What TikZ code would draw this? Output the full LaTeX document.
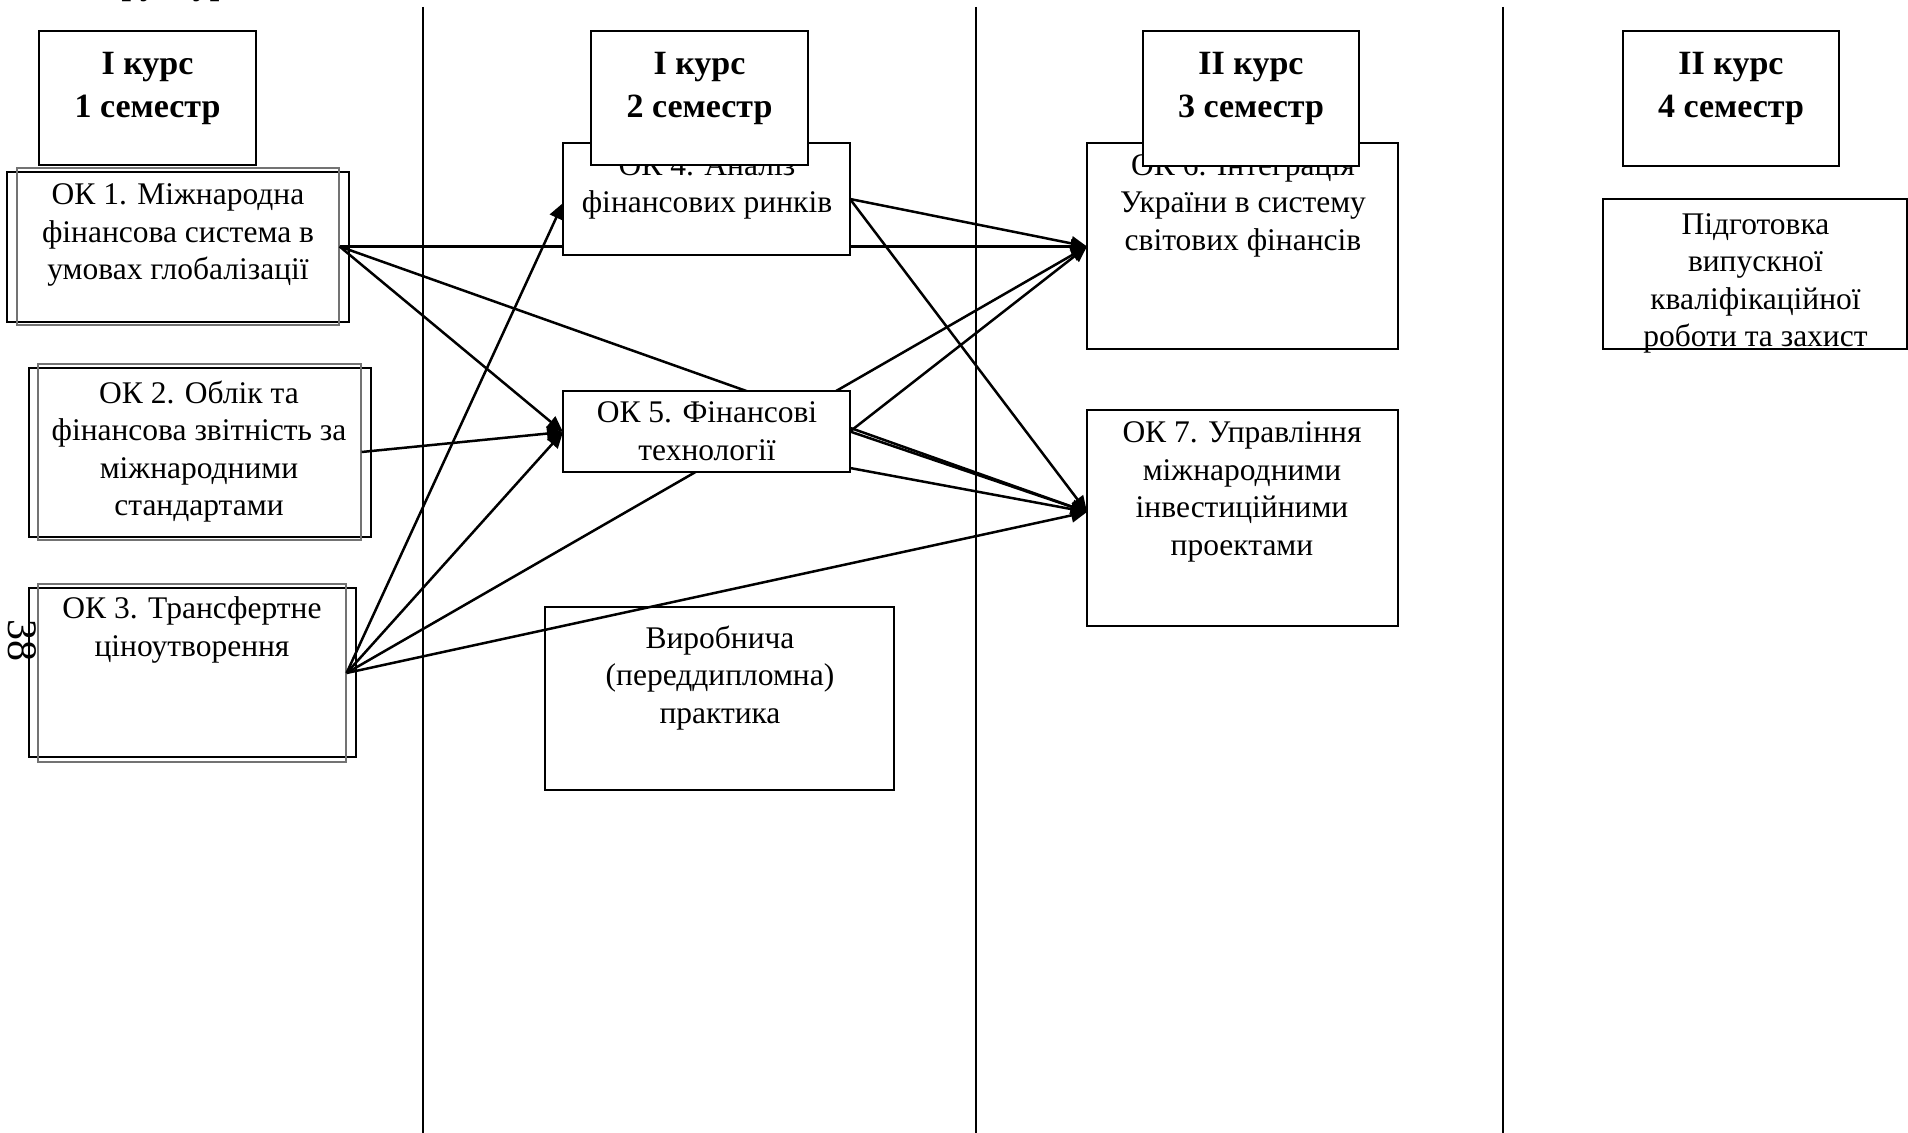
\documentclass[tikz,border=0pt]{standalone}
\usepackage{fontspec}
\setmainfont{Liberation Serif}
\usetikzlibrary{fit,arrows.meta}
\begin{document}
\begin{tikzpicture}[x=0.5pt,y=-0.5pt,
  conn/.style={line width=1.25pt,-{Triangle[length=8pt,width=7pt]}},
  boxA/.style={draw,line width=1pt,inner sep=0pt},
  boxB/.style={draw=black!55,line width=0.6pt,inner sep=0pt},
  box/.style={draw,line width=0.8pt,fill=white,inner sep=0pt},
  obox/.style={draw,line width=0.8pt,inner sep=0pt},
  hdr/.style={draw,line width=0.9pt,fill=white,inner sep=0pt},
  txt/.style={align=center,inner sep=0pt,anchor=north,font=\fontsize{15.75}{18.75}\selectfont},
  htxt/.style={align=center,inner sep=0pt,anchor=north,font=\fontsize{17}{21.3}\selectfont\bfseries},
  vline/.style={line width=0.75pt}]
\useasboundingbox (0,0) rectangle (1908,1133);

% semester separators
\draw[vline] (423,7) -- (423,1133);
\draw[vline] (976,7) -- (976,1133);
\draw[vline] (1503,7) -- (1503,1133);

% left column (double boxes)
\node[boxA,fit={(7,172) (349,322)}] (ok1o) {};
\node[boxB,fit={(17,168) (339,325)}] (ok1) {};
\node[txt] (ok1t) at (178,183.5) {ОК 1. Міжнародна\\фінансова система в\\умовах глобалізації};

\node[boxA,fit={(29,368) (371,537)}] (ok2o) {};
\node[boxB,fit={(38,364) (361,540)}] (ok2) {};
\node[txt] (ok2t) at (199,380.5) {ОК 2. Облік та\\фінансова звітність за\\міжнародними\\стандартами};

\node[boxA,fit={(29,588) (356,757)}] (ok3o) {};
\node[boxB,fit={(38,584) (346,762)}] (ok3) {};
\node[txt] (ok3t) at (192,596.5) {ОК 3. Трансфертне\\ціноутворення};

% target anchor coordinates
\coordinate (t7) at (1087,512);
\coordinate (s5) at (850,468);

% box corners (boxes drawn after the connectors)
\path (563,143) coordinate (ok4nw) (850,255) coordinate (ok4se);
\path (563,391) coordinate (ok5nw) (850,472) coordinate (ok5se);
\path (1087,143) coordinate (ok6nw) (1398,349) coordinate (ok6se);

% connectors
\draw[conn] (ok1.east) -- (1087,246.5) coordinate (t6);
\draw[conn] (ok1.east) -- (563,432) coordinate (t5);
\draw[conn] (ok1.east) -- (t7);
\draw[conn] (ok2.east) -- (t5);
\draw[conn] (ok3.east) -- (563,203) coordinate (t4);
\draw[conn] (ok3.east) -- (t5);
\draw[conn] (ok3.east) -- (t6);
\draw[conn] (ok3.east) -- (t7);
\draw[conn] (850,199) coordinate (s4) -- (t6);
\draw[conn] (s4) -- (t7);
\draw[conn] (850,431.5) coordinate (s5a) -- (t6);
\draw[conn] (s5a) -- (t7);
\draw[conn] (s5) -- (t7);

% middle & right boxes
\node[box,fit=(ok4nw)(ok4se)] (ok4) {};
\node[txt] (ok4t) at (707,154) {ОК 4. Аналіз\\фінансових ринків};

\node[box,fit=(ok5nw)(ok5se)] (ok5) {};
\node[txt] (ok5t) at (707,401.5) {ОК 5. Фінансові\\технології};

\node[obox,fit={(545,607) (894,790)}] (pr) {};
\node[txt] (prt) at (720,625.5) {Виробнича\\(переддипломна)\\практика};

\node[box,fit=(ok6nw)(ok6se)] (ok6) {};
\node[txt] (ok6t) at (1243,154) {ОК 6. Інтеграція\\України в систему\\світових фінансів};

\node[box,fit={(1087,410) (1398,626)}] (ok7) {};
\node[txt] (ok7t) at (1242,421.5) {ОК 7. Управління\\міжнародними\\інвестиційними\\проектами};

\node[box,fit={(1603,199) (1907,349)}] (fin) {};
\node[txt] (fint) at (1755.5,213) {Підготовка\\випускної\\кваліфікаційної\\роботи та захист};

% semester headers
\node[hdr,fit={(39,31) (256,165)}] (h1) {};
\node[htxt] (h1t) at (147.5,52) {І курс\\1 семестр};
\node[hdr,fit={(591,31) (808,165)}] (h2) {};
\node[htxt] (h2t) at (699.5,52) {І курс\\2 семестр};
\node[hdr,fit={(1143,31) (1359,166)}] (h3) {};
\node[htxt] (h3t) at (1251,52) {ІІ курс\\3 семестр};
\node[hdr,fit={(1623,31) (1839,166)}] (h4) {};
\node[htxt] (h4t) at (1731,52) {ІІ курс\\4 семестр};

% page number
\node[rotate=-90,inner sep=0pt,font=\fontsize{21}{24}\selectfont] (pg) at (22,641) {38};

% cut-off title at the top edge
\begin{scope}
\clip (0,0) rectangle (1908,1133);
\node[anchor=base west,inner sep=0pt,font=\fontsize{17}{21.3}\selectfont\bfseries] (title) at (80,-5) {Структурно-логічна схема};
\end{scope}
\end{tikzpicture}
\end{document}
